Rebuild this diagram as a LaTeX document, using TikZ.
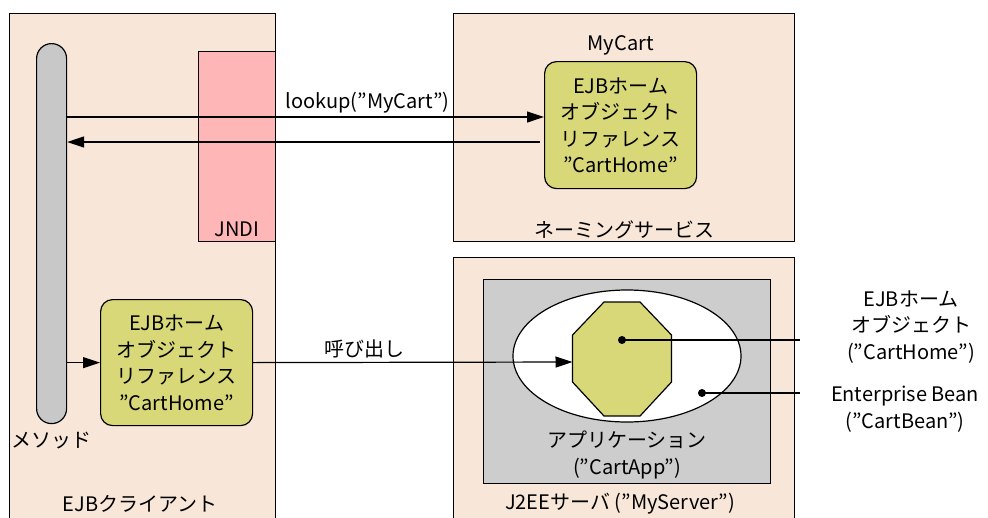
\documentclass[tikz,border=0pt]{standalone}
\usepackage{fontspec}
\setmainfont{Noto Sans CJK JP}
\usetikzlibrary{positioning, shapes.geometric, arrows.meta}
\definecolor{paper}{RGB}{248,231,216}
\definecolor{jndipink}{RGB}{255,182,182}
\definecolor{pillgray}{RGB}{200,200,200}
\definecolor{appgray}{RGB}{205,205,205}
\definecolor{olive}{RGB}{216,216,120}
\tikzset{
x=1pt, y=-1pt, % one unit is one pixel of the sketch, y runs down
>={Triangle[length=17pt,width=11pt]}, % filled arrow heads
every node/.style={font=\fontsize{20}{26.5}\selectfont}, % text size of all labels
area/.style={draw, line width=1.2pt, fill=paper, inner sep=0pt, anchor=north west}, % big boxes
ref/.style={draw, line width=1.2pt, fill=olive, rounded corners=12pt, inner sep=0pt, anchor=north west,
  minimum width=152pt, minimum height=126pt, align=center}, % reference boxes
flow/.style={->, line width=1.2pt}, % calls
lead/.style={line width=1.2pt}, % leader lines to the side texts
}
\begin{document}
\begin{tikzpicture}
        \clip (0,0) rectangle (988,517);

        % the client side
        \node[area, minimum width=266pt, minimum height=540pt] (client) at (9,13) {};
        \node[area, fill=jndipink, minimum width=77pt, minimum height=190pt] (jndi) at (198,51) {};
        \node[above=2pt of jndi.south] {JNDI};
        \node[area, fill=pillgray, rounded corners=15pt, minimum width=30pt, minimum height=380pt] (method) at (36,43) {};
        \node[below=4pt of method.south] {メソッド};
        \node[ref] (refC) at (100,299) {EJBホーム\\オブジェクト\\リファレンス\\"CartHome"};
        \node at (140,504) {EJBクライアント};

        % the naming service
        \node[area, minimum width=341pt, minimum height=228pt] (naming) at (453,13) {};
        \node[ref, minimum height=127pt] (refN) at (544,61) {EJBホーム\\オブジェクト\\リファレンス\\"CartHome"};
        \node[above=2pt of refN] {MyCart};
        \node[above=0pt of naming.south] {ネーミングサービス};

        % the server
        \node[area, minimum width=341pt, minimum height=290pt] (server) at (453,257) {};
        \node[area, fill=appgray, minimum width=287pt, minimum height=204pt] (app) at (483,279) {};
        \node[ellipse, draw, fill=white, line width=1.2pt, inner sep=0pt, minimum width=228pt, minimum height=132pt] (bean) at (627,356) {};
        \coordinate (home) at (622,359);
        \draw[lead, fill=olive] (home) ++(-18,-57) -- ++(36,0) -- ++(31.5,33) -- ++(0,47) -- ++(-31.5,34)
          -- ++(-36,0) -- ++(-31.5,-34) -- ++(0,-47) -- cycle;
        \coordinate (homeW) at (572.5,362);
        \node[align=center, above=2pt of app.south] {アプリケーション\\("CartApp")};
        \node at (620,504) {J2EEサーバ ("MyServer")};

        % side texts
        \coordinate (homeDot) at (622,340);
        \coordinate (beanDot) at (702,393);
        \coordinate (homeTag) at (800,340);
        \coordinate (beanTag) at (800,393);
        \node[align=center] (homeTxt) at (911,327) {EJBホーム\\オブジェクト\\("CartHome")};
        \node[align=center] (beanTxt) at (905,409) {Enterprise Bean\\("CartBean")};

        \fill (homeDot) circle (4pt) (beanDot) circle (4pt);
        \draw[lead] (homeDot) -- (homeTag);
        \draw[lead] (beanDot) -- (beanTag);

        \draw[flow] (method.east |- 0,117) -- node[above, pos=0.63]{lookup("MyCart")} (refN.west |- 0,117);
        \draw[flow, shorten <=4pt] (refN.west |- 0,142) -- (method.east |- 0,142);
        \draw[flow] (method.east |- refC.west) -- (refC.west);
        \draw[flow] (refC.east) -- node[above, pos=0.35]{呼び出し} (homeW);
      \end{tikzpicture}
\end{document}
